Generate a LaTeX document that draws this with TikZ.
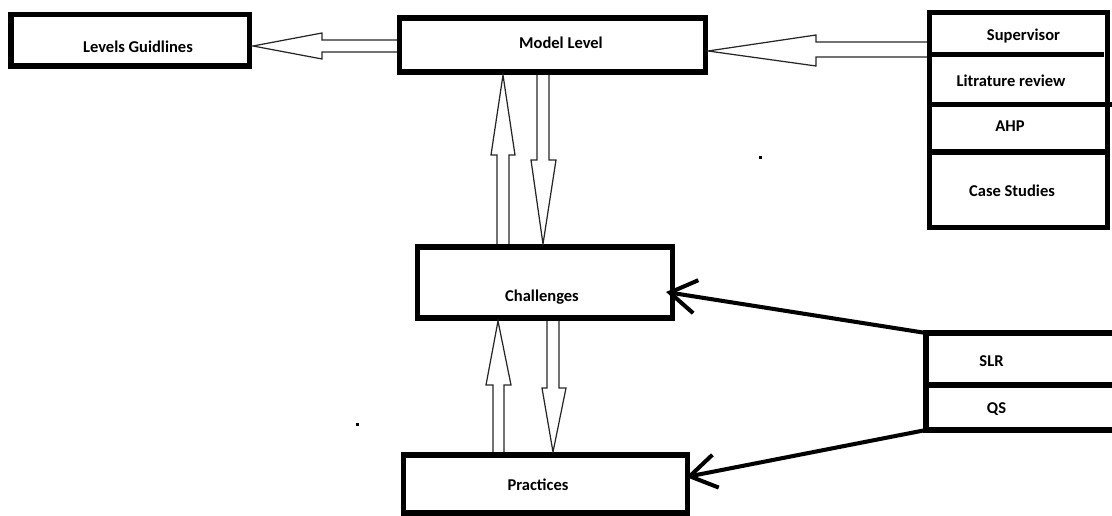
\documentclass[tikz,border=0pt]{standalone}
\usepackage{fontspec}
\setmainfont{Carlito}
\usetikzlibrary{arrows.meta}
\tikzset{
  box/.style={draw=black, line width=3pt, fill=white, inner sep=0pt},
  lbl/.style={anchor=base, inner sep=0pt, font=\fontsize{9.4}{11}\selectfont\bfseries},
  hollow/.style={draw=black!85, line width=0.7pt, line join=miter},
  solidarrow/.style={draw=black, line width=2.3pt, line cap=round,
    -{Straight Barb[length=15pt,width=19pt,line width=2.3pt]}},
  frame/.style={draw=black, line width=3pt},
}
\begin{document}
\begin{tikzpicture}[x=0.02cm, y=-0.02cm]
\useasboundingbox (0,0) rectangle (1112,516);

% boxes (stroke-centre geometry)
\node[box, minimum width=238.5*0.02cm, minimum height=51.5*0.02cm] (lg) at (130.25,40.25) {};
\node[box, minimum width=306*0.02cm, minimum height=54*0.02cm] (ml) at (552.5,45) {};
\node[box, minimum width=255*0.02cm, minimum height=71*0.02cm] (ch) at (545,282.5) {};
\node[box, minimum width=284*0.02cm, minimum height=58*0.02cm] (pr) at (545.5,484) {};
\node[box, minimum width=178*0.02cm, minimum height=215*0.02cm] (rs) at (1018.5,120) {};

% dividers of the right stack
\draw[frame] (rs.west |- 0,54.5) -- (1104,54.5);
\draw[frame] (rs.west |- 0,104.5) -- (1112,104.5);
\draw[frame] (rs.west |- 0,152) -- (1110,152);

% SLR / QS box (open on the right)
\coordinate (sq-tl) at (926,333);
\coordinate (sq-bl) at (926,430);
\draw[frame, line join=miter] (1112,333) -- (sq-tl) -- (sq-bl) -- (1112,430);
\draw[frame] (926,385) -- (1112,385);

% labels
\node[lbl] (t-lg) at (138,52.5) {Levels Guidlines};
\node[lbl] (t-ml) at (561,49) {Model Level};
\node[lbl] (t-sup) at (1023.5,41) {Supervisor};
\node[lbl] (t-lit) at (1011,87) {Litrature review};
\node[lbl] (t-ahp) at (1010,132) {AHP};
\node[lbl] (t-cs) at (1012,196.5) {Case Studies};
\node[lbl] (t-ch) at (542,301.5) {Challenges};
\node[lbl] (t-pr) at (538,490.5) {Practices};
\node[lbl] (t-slr) at (991.5,367) {SLR};
\node[lbl] (t-qs) at (996.5,414) {QS};

% hollow block arrows
% Model Level -> Levels Guidlines
\draw[hollow] (397,40) -- (322,40) -- (322,33) -- (253,46) -- (322,59) -- (322,52) -- (397,52);
% right stack -> Model Level
\draw[hollow] (927,42) -- (816,42) -- (816,35) -- (708,51) -- (816,66) -- (816,57) -- (927,57);
% Challenges -> Model Level (up)
\draw[hollow] (497,244) -- (497,155) -- (491,155) -- (503,75) -- (515,155) -- (509,155) -- (509,244);
% Model Level -> Challenges (down)
\draw[hollow] (537,75) -- (537,160) -- (531,160) -- (543,244) -- (556,160) -- (549,160) -- (549,75);
% Practices -> Challenges (up)
\draw[hollow] (493,452) -- (493,385) -- (486,385) -- (498,321) -- (511,385) -- (504,385) -- (504,452);
% Challenges -> Practices (down)
\draw[hollow] (547,321) -- (547,388) -- (542,388) -- (553,452) -- (566,388) -- (559,388) -- (559,321);

% solid arrows
\draw[solidarrow] (sq-tl) -- (666,292);
\draw[solidarrow] (sq-bl) -- (686,477);

% stray dots
\fill (759,156) rectangle (762,159);
\fill (356,423) rectangle (359,426);
\end{tikzpicture}
\end{document}
